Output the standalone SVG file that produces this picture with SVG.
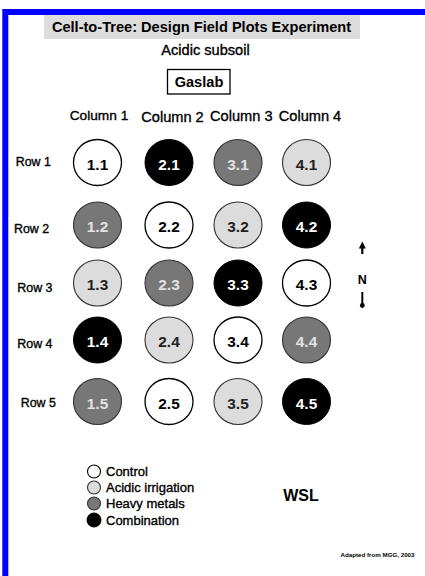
<svg xmlns="http://www.w3.org/2000/svg" width="425" height="576" viewBox="0 0 425 576">
<style>
text{font-family:"Liberation Sans",Arial,sans-serif;fill:#000}
.t{font-size:14.6px;text-anchor:middle}
.b{font-weight:bold}
.reg{stroke:#000;stroke-width:0.35}
.row{font-size:12.4px}
.lab{font-size:15.4px;font-weight:bold;text-anchor:middle}
.leg{font-size:13px}
.w{fill:#fff;stroke:#000;stroke-width:1.3}
.l{fill:#dcdcdc;stroke:#333;stroke-width:1.1}
.m{fill:#777;stroke:#333;stroke-width:1.1}
.k{fill:#000;stroke:#000;stroke-width:1}
.tw{fill:#fff}
.tl{fill:#e2e2e2}
.td{fill:#222}
</style>
<rect width="425" height="576" fill="#fff"/>
<path d="M5.3 576 V12 H425" fill="none" stroke="#0000ff" stroke-width="6"/>
<g id="title">
<rect x="44" y="15" width="316" height="24" fill="#dcdcdc"/>
<text class="t b" x="201.5" y="32" font-size="14.6" fill="#111">Cell-to-Tree: Design Field Plots Experiment</text>
</g>
<text class="t reg" x="205.5" y="55">Acidic subsoil</text>
<g id="gaslab">
<rect x="167.5" y="69.5" width="62.5" height="24.5" fill="#fff" stroke="#000" stroke-width="1.3"/>
<text class="t b" x="199" y="87.3" font-size="14.3">Gaslab</text>
</g>
<g id="columns">
<text class="reg" x="99" y="120" style="font-size:13.7px;text-anchor:middle">Column 1</text>
<text class="t reg" x="172.5" y="121.7">Column 2</text>
<text class="t reg" x="241.3" y="120.5">Column 3</text>
<text class="t reg" x="310" y="120.5">Column 4</text>
</g>
<g id="rows">
<text class="row reg" x="15.7" y="165.5">Row 1</text>
<text class="row reg" x="14" y="233.3">Row 2</text>
<text class="row reg" x="17.3" y="291.7">Row 3</text>
<text class="row reg" x="17.3" y="348.3">Row 4</text>
<text class="row reg" x="20.7" y="406.7">Row 5</text>
</g>
<g id="c1-1"><ellipse class="w" cx="97.5" cy="162.5" rx="24" ry="23"/><text class="lab" x="97.5" y="169.5">1.1</text></g>
<g id="c2-1"><ellipse class="k" cx="169" cy="162.5" rx="24" ry="23"/><text class="lab tw" x="169" y="169.5">2.1</text></g>
<g id="c3-1"><ellipse class="m" cx="238" cy="162.5" rx="24" ry="23"/><text class="lab tl" x="238" y="169.5">3.1</text></g>
<g id="c4-1"><ellipse class="l" cx="306.5" cy="162.5" rx="24" ry="23"/><text class="lab td" x="306.5" y="169.5">4.1</text></g>

<g id="c1-2"><ellipse class="m" cx="97.5" cy="225" rx="24" ry="23"/><text class="lab tl" x="97.5" y="232">1.2</text></g>
<g id="c2-2"><ellipse class="w" cx="169" cy="225" rx="24" ry="23"/><text class="lab" x="169" y="232">2.2</text></g>
<g id="c3-2"><ellipse class="l" cx="238" cy="225" rx="24" ry="23"/><text class="lab td" x="238" y="232">3.2</text></g>
<g id="c4-2"><ellipse class="k" cx="306.5" cy="225" rx="24" ry="23"/><text class="lab tw" x="306.5" y="232">4.2</text></g>

<g id="c1-3"><ellipse class="l" cx="97.5" cy="283" rx="24" ry="23"/><text class="lab td" x="97.5" y="290">1.3</text></g>
<g id="c2-3"><ellipse class="m" cx="169" cy="283" rx="24" ry="23"/><text class="lab tl" x="169" y="290">2.3</text></g>
<g id="c3-3"><ellipse class="k" cx="238" cy="283" rx="24" ry="23"/><text class="lab tw" x="238" y="290">3.3</text></g>
<g id="c4-3"><ellipse class="w" cx="306.5" cy="283" rx="24" ry="23"/><text class="lab" x="306.5" y="290">4.3</text></g>

<g id="c1-4"><ellipse class="k" cx="97.5" cy="340" rx="24" ry="23"/><text class="lab tw" x="97.5" y="347">1.4</text></g>
<g id="c2-4"><ellipse class="l" cx="169" cy="340" rx="24" ry="23"/><text class="lab td" x="169" y="347">2.4</text></g>
<g id="c3-4"><ellipse class="w" cx="238" cy="340" rx="24" ry="23"/><text class="lab" x="238" y="347">3.4</text></g>
<g id="c4-4"><ellipse class="m" cx="306.5" cy="340" rx="24" ry="23"/><text class="lab tl" x="306.5" y="347">4.4</text></g>

<g id="c1-5"><ellipse class="m" cx="97.5" cy="401.5" rx="24" ry="23"/><text class="lab tl" x="97.5" y="408.5">1.5</text></g>
<g id="c2-5"><ellipse class="w" cx="169" cy="401.5" rx="24" ry="23"/><text class="lab" x="169" y="408.5">2.5</text></g>
<g id="c3-5"><ellipse class="l" cx="238" cy="401.5" rx="24" ry="23"/><text class="lab td" x="238" y="408.5">3.5</text></g>
<g id="c4-5"><ellipse class="k" cx="306.5" cy="401.5" rx="24" ry="23"/><text class="lab tw" x="306.5" y="408.5">4.5</text></g>

<g id="north">
<line x1="362.3" y1="254" x2="362.3" y2="247" stroke="#000" stroke-width="2.2"/>
<polygon points="362.3,241.5 358.8,248.5 365.8,248.5" fill="#000"/>
<text x="362.3" y="284" style="font-size:12.5px;font-weight:bold;text-anchor:middle">N</text>
<line x1="362.3" y1="292" x2="362.3" y2="305" stroke="#000" stroke-width="2"/>
<circle cx="362.3" cy="305.5" r="2.4" fill="#000"/>
</g>
<g id="legend">
<circle class="w" cx="94" cy="471.5" r="6.5" style="stroke-width:1.1"/>
<text class="leg reg" x="106" y="476">Control</text>
<circle class="l" cx="94" cy="487.5" r="6.5"/>
<text class="leg reg" x="106" y="492">Acidic irrigation</text>
<circle class="m" cx="94" cy="503.5" r="6.5"/>
<text class="leg reg" x="106" y="508">Heavy metals</text>
<circle class="k" cx="94" cy="520" r="7"/>
<text class="leg reg" x="106" y="524.5">Combination</text>
</g>
<text x="301" y="501" style="font-size:16px;font-weight:bold;text-anchor:middle">WSL</text>
<text x="414.5" y="557" style="font-size:6.2px;font-weight:bold;text-anchor:end">Adapted from MGG, 2003</text>
</svg>
